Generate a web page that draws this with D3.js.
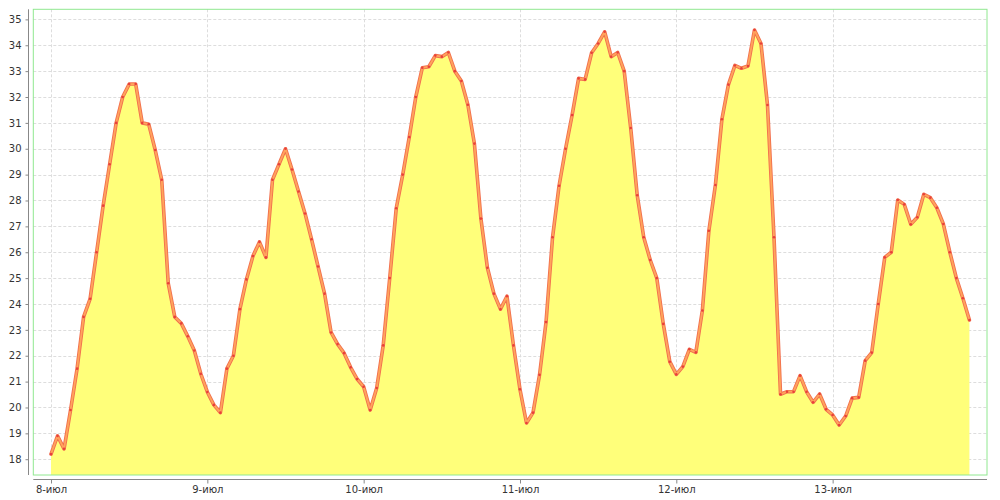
<!DOCTYPE html>
<html>
<head>
<meta charset="utf-8">
<script src="https://cdn.jsdelivr.net/npm/d3@7/dist/d3.min.js"></script>
<style>
html,body{margin:0;padding:0;background:#fff;}
svg{display:block;}
text{font-family:"DejaVu Sans",sans-serif;}
</style>
</head>
<body>
<svg id="chart" width="1000" height="500"></svg>
<script>
// hourly temperature readings starting 8-июл 00:00
const temps = [
 18.2,18.9,18.4,19.9,21.5,23.5,24.2,26.0,27.8,29.4,31.0,32.0,32.5,32.5,31.0,30.95,29.95,28.8,24.8,23.5,23.25,22.75,22.2,21.3,
 20.6,20.1,19.8,21.5,22.0,23.8,24.95,25.85,26.4,25.8,28.8,29.4,30.0,29.2,28.35,27.5,26.5,25.45,24.4,22.9,22.45,22.1,21.55,21.1,
 20.8,19.9,20.75,22.4,25.0,27.7,29.0,30.45,32.0,33.13,33.17,33.6,33.56,33.72,33.0,32.62,31.7,30.2,27.3,25.4,24.4,23.8,24.3,22.4,
 20.7,19.4,19.8,21.26,23.3,26.58,28.57,30.0,31.3,32.72,32.68,33.71,34.07,34.52,33.56,33.72,33.0,30.8,28.2,26.58,25.7,25.0,23.23,21.77,
 21.28,21.58,22.25,22.13,23.75,26.83,28.6,31.14,32.48,33.22,33.11,33.2,34.59,34.07,31.69,26.58,20.51,20.61,20.61,21.23,20.61,20.2,20.52,19.93,
 19.71,19.32,19.67,20.36,20.39,21.81,22.12,24.0,25.8,26.0,28.02,27.85,27.08,27.35,28.24,28.11,27.72,27.09,26.0,25.0,24.22,23.38
];
const hours = temps.map((_, i) => i);
const dayTicks = [0, 24, 48, 72, 96, 120];
const dayLabels = ["8-июл", "9-июл", "10-июл", "11-июл", "12-июл", "13-июл"];
const yTicks = d3.range(18, 36, 1);

const svg = d3.select("#chart");
const L = 33.3, R = 987, T = 9.3, B = 475;

const x = d3.scaleLinear().domain([-2.72, 143.7]).range([L, R]);
const y = d3.scaleLinear().domain([17.39, 35.39]).range([B, T]);

// grid
const grid = svg.append("g");
grid.selectAll("line.h").data(yTicks).enter().append("line")
  .attr("x1", L).attr("x2", R)
  .attr("y1", d => Math.round(y(d)) + 0.5).attr("y2", d => Math.round(y(d)) + 0.5)
  .attr("stroke", "#dddddd").attr("stroke-width", 1).attr("stroke-dasharray", "3,2");
grid.selectAll("line.v").data(dayTicks).enter().append("line")
  .attr("y1", T).attr("y2", B)
  .attr("x1", d => Math.round(x(d)) + 0.5).attr("x2", d => Math.round(x(d)) + 0.5)
  .attr("stroke", "#dddddd").attr("stroke-width", 1).attr("stroke-dasharray", "3,2");

// area
const area = d3.area().x((d, i) => x(hours[i])).y0(B).y1(d => y(d));
svg.append("path").datum(temps).attr("d", area).attr("fill", "#ffff7a");

// line
const line = d3.line().x((d, i) => x(hours[i])).y(d => y(d));
svg.append("path").datum(temps).attr("d", line)
  .attr("fill", "none").attr("stroke", "#f2704e").attr("stroke-width", 3.6)
  .attr("stroke-linejoin", "round").attr("stroke-linecap", "round");
svg.append("path").datum(temps).attr("d", line)
  .attr("fill", "none").attr("stroke", "#ffa45c").attr("stroke-width", 1.8)
  .attr("stroke-linejoin", "round");
svg.append("g").selectAll("circle").data(temps).enter().append("circle")
  .attr("cx", (d, i) => x(hours[i])).attr("cy", d => y(d)).attr("r", 1.3)
  .attr("fill", "#e8403a");

// plot border
svg.append("rect").attr("x", L).attr("y", T).attr("width", R - L).attr("height", B - T)
  .attr("fill", "none").attr("stroke", "#90e890").attr("stroke-width", 1);

// y axis
const yAxis = d3.axisLeft(y).tickValues(yTicks).tickSize(3).tickPadding(4).tickFormat(d3.format("d"));
const gy = svg.append("g").attr("transform", "translate(28.5,0)").call(yAxis);
gy.select(".domain").attr("d", `M0,${T}V${B}`).attr("stroke", "#888");
gy.selectAll(".tick line").attr("stroke", "#888");
gy.selectAll("text").attr("font-size", 10).attr("fill", "#333").attr("font-family", "DejaVu Sans, sans-serif");

// x axis
const xAxis = d3.axisBottom(x).tickValues(dayTicks).tickSize(4).tickPadding(2)
  .tickFormat((d, i) => dayLabels[i]);
const gx = svg.append("g").attr("transform", "translate(0,479.5)").call(xAxis);
gx.select(".domain").attr("d", `M${L},0H${R}`).attr("stroke", "#888");
gx.selectAll(".tick line").attr("stroke", "#888");
gx.selectAll("text").attr("font-size", 10).attr("fill", "#333").attr("font-family", "DejaVu Sans, sans-serif");
</script>
</body>
</html>
